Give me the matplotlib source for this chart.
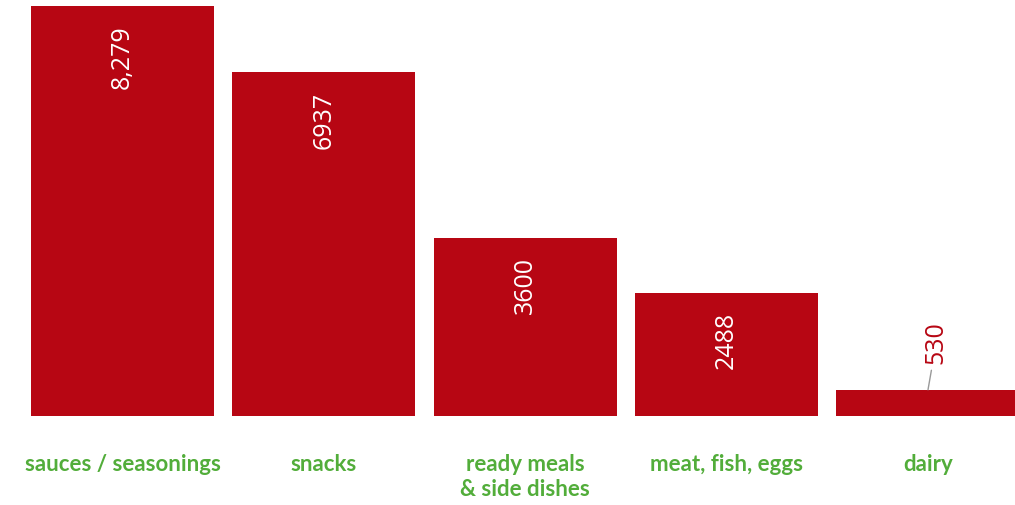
import matplotlib
matplotlib.use("Agg")
import matplotlib.pyplot as plt

# Category totals
categories = ["sauces / seasonings", "snacks", "ready meals\n& side dishes", "meat, fish, eggs", "dairy"]
values = [8279, 6937, 3600, 2488, 530]
value_labels = ["8,279", "6937", "3600", "2488", "530"]

bar_color = "#B70613"
label_green = "#52AD3A"

fig = plt.figure(figsize=(10.15, 5.06), dpi=100)
ax = fig.add_axes([0, 89 / 506, 1, 417 / 506])

x = list(range(len(values)))
bars = ax.bar(x, values, width=0.91, color=bar_color)

ax.set_xlim(-0.608, 4.432)
ax.set_ylim(0, max(values) * 417 / 410)

# values inside the tall bars, small one gets a label above with a leader line
for xi, v, lab in zip(x, values, value_labels):
    if v > 1000:
        ax.annotate(lab, (xi, v), xytext=(0, -13), textcoords="offset points",
                    rotation=90, ha="center", va="top", color="white",
                    fontsize=18, family="Open Sans")
    else:
        ax.annotate(lab, (xi, v), xytext=(6, 19), textcoords="offset points",
                    rotation=90, ha="center", va="bottom", color=bar_color,
                    fontsize=18, family="Open Sans",
                    arrowprops=dict(arrowstyle="-", color="#999999", lw=1,
                                    shrinkA=3, shrinkB=0))

ax.set_xticks(x)
ax.set_xticklabels(categories, color=label_green, fontsize=16,
                   fontweight="bold", family="Lato", linespacing=1.2)
ax.tick_params(axis="x", length=0, pad=27)
ax.set_yticks([])
for s in ax.spines.values():
    s.set_visible(False)

fig.savefig("out.png", dpi=100)
